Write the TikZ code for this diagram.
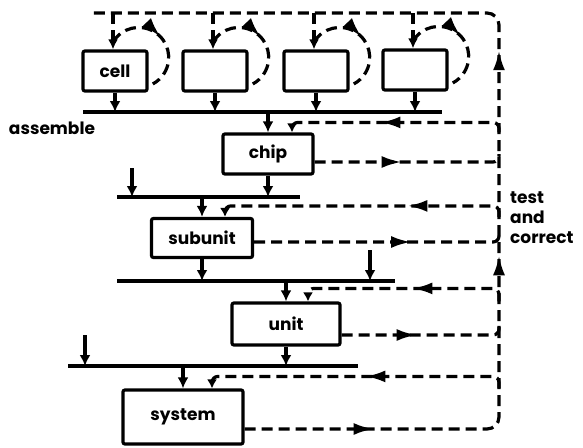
\documentclass[tikz,border=0pt]{standalone}
\usepackage{fontspec}
\setmainfont{Poppins}
\usetikzlibrary{arrows.meta,decorations.markings}

\begin{document}
\begin{tikzpicture}[x=1pt, y=1pt,
  box/.style={draw=black, line width=3.2pt, rounded corners=2pt, inner sep=0pt, font=\fontsize{17}{20}\selectfont\bfseries},
  cellbox/.style={box, minimum width=64pt, minimum height=40pt},
  bus/.style={line width=3.4pt},
  down/.style={line width=4.5pt, -{Latex[length=11pt,width=11pt]}},
  test/.style={line width=3.2pt, dash pattern=on 11pt off 6pt, rounded corners=6pt},
  mid/.style={postaction={decorate, decoration={markings, mark=at position #1 with {\arrow{Latex[length=20pt,width=12pt]}}}}},
  lbl/.style={font=\fontsize{17}{20}\selectfont\bfseries, align=left, inner sep=0pt}
  ]
  \useasboundingbox (0,0) rectangle (583,-447);

  % Celle
  \node[cellbox] (cell1) at (115,-71) {cell};
  \node[cellbox] (cell2) at (215,-71) {};
  \node[cellbox] (cell3) at (316,-71) {};
  \node[cellbox] (cell4) at (415,-70) {};

  % Blocchi
  \node[box, minimum width=90pt, minimum height=40pt] (chip) at (268,-154) {chip};
  \node[box, minimum width=101pt, minimum height=39pt] (subunit) at (202,-238) {subunit};
  \node[box, minimum width=108pt, minimum height=42pt] (unit) at (286,-324) {unit};
  \node[box, minimum width=120pt, minimum height=54pt] (system) at (183,-417) {system};

  % Bus
  \coordinate (busw1) at (83,-112);  \coordinate (buse1) at (442,-112);
  \coordinate (busw2) at (117,-197); \coordinate (buse2) at (300,-197);
  \coordinate (busw3) at (117,-281); \coordinate (buse3) at (395,-281);
  \coordinate (busw4) at (68,-366);  \coordinate (buse4) at (358,-366);
  \foreach \b in {1,...,4} \draw[bus] (busw\b) -- (buse\b);

  % Montaggio
  \foreach \c in {1,...,4} \draw[down] (cell\c.south) -- (cell\c.south |- busw1);
  \draw[down] (busw1 -| chip.north) -- (chip.north);
  \draw[down] (chip.south) -- (chip.south |- busw2);
  \draw[down] (busw2 -| subunit.north) -- (subunit.north);
  \draw[down] (subunit.south) -- (subunit.south |- busw3);
  \draw[down] (busw3 -| unit.north) -- (unit.north);
  \draw[down] (unit.south) -- (unit.south |- busw4);
  \draw[down] (busw4 -| system.north) -- (system.north);

  % Ingressi esterni
  \coordinate (in2) at (132,-168);
  \coordinate (in3) at (370,-250);
  \coordinate (in4) at (85,-335);
  \draw[down] (in2) -- (in2 |- busw2);
  \draw[down] (in3) -- (in3 |- busw3);
  \draw[down] (in4) -- (in4 |- busw4);

  % Linea di test
  \coordinate (rtop) at (499,-13);
  \coordinate (ltop) at (92,-13);
  \draw[test, rounded corners=12pt, mid=129pt, mid=423pt, mid=628pt]
    ([yshift=-12pt]system.east) -| (rtop) -- (ltop);

  \foreach \c in {1,...,4} {
    \draw[test, -{Latex[length=10pt,width=10pt]}] ([xshift=-2pt]cell\c.north |- rtop) -- ([xshift=-2pt]cell\c.north);
    \draw[test, mid=0.5] ([xshift=-2pt,yshift=29pt]cell\c.center) arc[start angle=149, end angle=-62, radius=30];
  }

  % Ritorni e uscite
  \draw[test, mid=126pt, -{Latex[length=9pt,width=10pt]}]
    (rtop |- chip.north) |- ([xshift=24pt,yshift=10pt]chip.north) -- ([xshift=24pt]chip.north);
  \draw[test, mid=87pt] ([yshift=-8pt]chip.east) -| (rtop |- chip.center);

  \draw[test, mid=100pt, -{Latex[length=9pt,width=10pt]}]
    (rtop |- subunit.north) |- ([xshift=23pt,yshift=11pt]subunit.north) -- ([xshift=23pt]subunit.north);
  \draw[test, mid=157pt] ([yshift=-4pt]subunit.east) -| (rtop |- subunit.center);

  \draw[test, mid=97pt, -{Latex[length=9pt,width=10pt]}]
    (rtop |- unit.north) |- ([xshift=22pt,yshift=13pt]unit.north) -- ([xshift=22pt]unit.north);
  \draw[test, mid=75pt] ([yshift=-11pt]unit.east) -| (rtop |- unit.center);

  \draw[test, mid=143pt, -{Latex[length=9pt,width=10pt]}]
    (rtop |- system.north) |- ([xshift=29pt,yshift=12pt]system.north) -- ([xshift=29pt]system.north);

  % Testi
  \node[lbl] (assemble) at (52,-128) {assemble};
  \node[lbl, anchor=north west] (tc) at (510,-191) {test\\and\\correct};
\end{tikzpicture}
\end{document}
